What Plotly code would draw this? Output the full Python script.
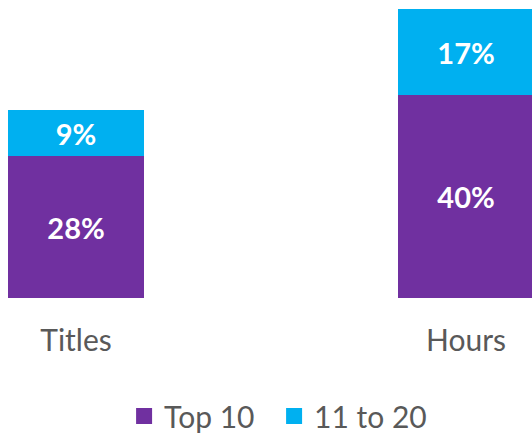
import plotly.graph_objects as go

categories = ["Titles", "Hours"]
top10 = [28, 40]
rank11_20 = [9, 17]
series_names = ["Top 10", "11 to 20"]
colors = ["#7030A0", "#00B0F0"]
legend_widths = [105, 125]

fig = go.Figure()
for name, vals, col in zip(series_names, [top10, rank11_20], colors):
    fig.add_trace(go.Bar(
        x=categories, y=vals, name=name,
        marker=dict(color=col, line=dict(width=0)),
        width=0.349,
        text=[f"{v}%" for v in vals],
        textposition="inside", insidetextanchor="middle",
        textfont=dict(family="Lato", size=29, color="white", weight="bold"),
        constraintext="none",
        showlegend=False,
    ))
# legend entries with square markers
for name, col, lw in zip(series_names, colors, legend_widths):
    fig.add_trace(go.Scatter(
        x=[None], y=[None], mode="markers", name=name,
        marker=dict(symbol="square", size=18, color=col),
        legendwidth=lw,
        showlegend=True,
    ))

fig.update_layout(
    barmode="stack",
    width=532, height=435,
    margin=dict(l=0, r=0, t=0, b=137, autoexpand=False),
    plot_bgcolor="white", paper_bgcolor="white",
    font=dict(family="Lato", color="#595959", size=30),
    xaxis=dict(range=[-0.1949, 1.1692], showgrid=False, zeroline=False,
               showline=False, ticks="", ticklabelstandoff=22, automargin=False,
               tickfont=dict(size=30, color="#595959")),
    yaxis=dict(range=[0, 58.8], visible=False, automargin=False),
    legend=dict(orientation="h", x=0.534, xanchor="center",
                yref="container", y=0.0437, yanchor="middle",
                font=dict(size=30, color="#595959"), traceorder="normal"),
    showlegend=True,
)

fig.write_html("out.html",
               config={"displayModeBar": False},
               post_script="document.body.style.margin='0px';document.body.style.overflow='hidden';")
